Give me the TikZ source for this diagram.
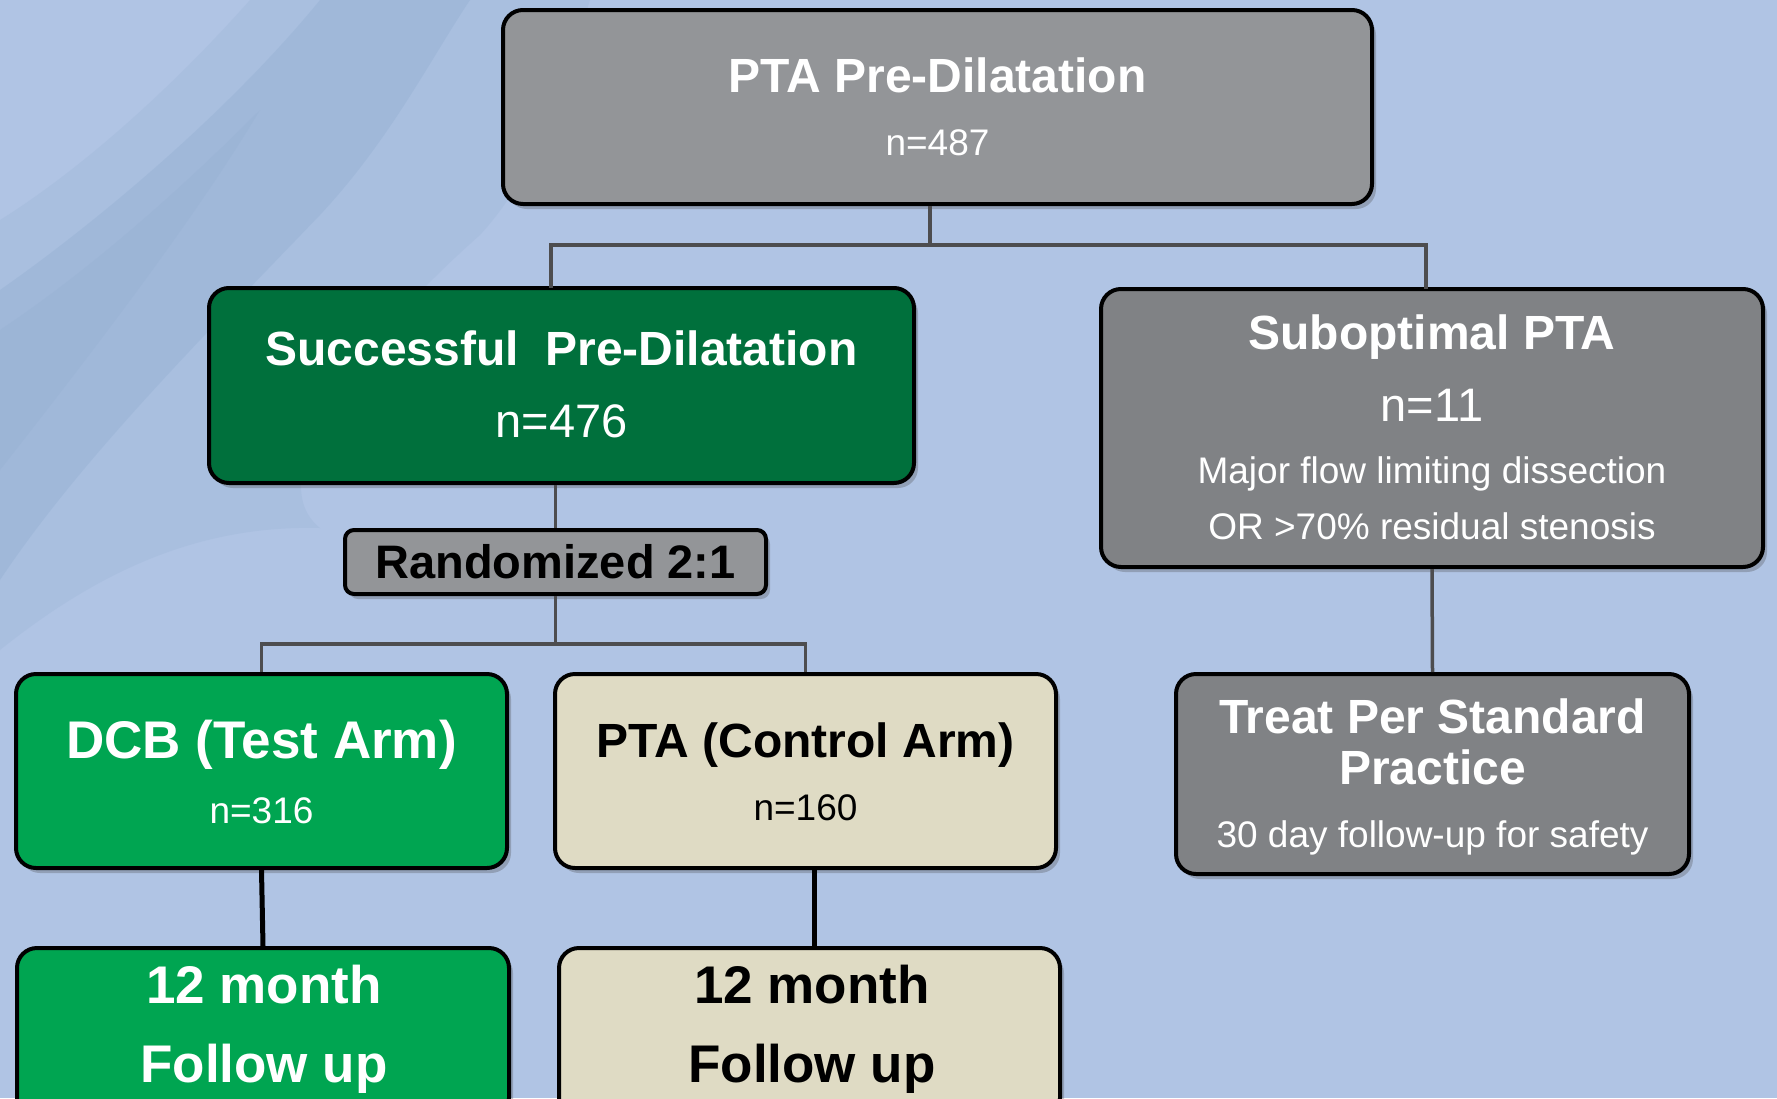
\documentclass[tikz,border=0pt]{standalone}
\usepackage{fontspec}
\setmainfont{Liberation Sans}
\usetikzlibrary{shadows}
\definecolor{bgblue}{RGB}{176,196,228}
\definecolor{swoosh}{RGB}{140,170,205}
\definecolor{topgray}{RGB}{147,149,152}
\definecolor{subgray}{RGB}{128,130,133}
\definecolor{darkgreen}{RGB}{0,112,60}
\definecolor{armgreen}{RGB}{0,165,81}
\definecolor{beige}{RGB}{223,219,196}
\definecolor{linegray}{RGB}{77,77,79}
\tikzset{
  box/.style={draw=black, line width=4pt, rounded corners=20pt, inner sep=0pt,
    drop shadow={shadow xshift=4pt, shadow yshift=-5pt, opacity=0.3, fill=black!70}},
  txt/.style={anchor=base, inner sep=0pt, outer sep=0pt},
  bigb/.style={txt, font=\fontsize{48}{58}\selectfont\bfseries},
  hugeb/.style={txt, font=\fontsize{53}{63}\selectfont\bfseries},
  med/.style={txt, font=\fontsize{47}{56}\selectfont},
  small/.style={txt, font=\fontsize{37}{44}\selectfont},
  conn/.style={draw=linegray, line width=3.5pt},
  thickconn/.style={draw=black, line width=5pt},
}
\begin{document}
\begin{tikzpicture}[x=1pt, y=-1pt]
\useasboundingbox (0,0) rectangle (1777,1098);
\begin{scope}
\clip (0,0) rectangle (1777,1098);
\fill[bgblue] (0,0) rectangle (1777,1098);
% background brush stroke (soft, layered)
\fill[swoosh, opacity=0.18] (250,0) .. controls (170,90) and (80,170) .. (0,220)
  -- (0,650) .. controls (100,570) and (200,525) .. (320,528)
  .. controls (260,480) and (350,350) .. (480,235)
  .. controls (540,170) and (565,80) .. (590,0) -- cycle;
\fill[swoosh, opacity=0.3] (320,0) .. controls (230,110) and (100,220) .. (0,290)
  -- (0,580) .. controls (80,460) and (200,340) .. (320,215)
  .. controls (390,140) and (430,60) .. (470,0) -- cycle;
\fill[swoosh, opacity=0.2] (0,330) .. controls (90,270) and (180,190) .. (260,110)
  .. controls (200,210) and (110,330) .. (0,470) -- cycle;

% boxes
\node[box, fill=topgray, minimum width=869pt, minimum height=194pt] (top) at (937.5,107) {};
\node[box, fill=darkgreen, minimum width=705pt, minimum height=195pt] (succ) at (561.5,385.5) {};
\node[box, fill=subgray, minimum width=662pt, minimum height=278pt] (sub) at (1432,428) {};
\node[box, fill=topgray, rounded corners=9pt, minimum width=421pt, minimum height=64pt] (rand) at (555.5,562) {};
\node[box, fill=armgreen, minimum width=491pt, minimum height=194pt] (dcb) at (261.5,771) {};
\node[box, fill=beige, minimum width=501pt, minimum height=194pt] (pta) at (805.5,771) {};
\node[box, fill=subgray, minimum width=513pt, minimum height=200pt] (treat) at (1432.5,774) {};
\node[box, fill=armgreen, minimum width=492pt, minimum height=170pt] (dcbf) at (263,1033) {};
\node[box, fill=beige, minimum width=501pt, minimum height=170pt] (ptaf) at (809.5,1033) {};

% texts
\node[bigb, white] (topA) at (937.5,92) {PTA Pre-Dilatation};
\node[small, white] (topB) at (937.5,155) {n=487};
\node[bigb, white] (succA) at (561.5,365) {Successful\ \ Pre-Dilatation};
\node[med, white] (succB) at (561.5,437) {n=476};
\node[bigb, white] (subA) at (1432,349) {Suboptimal PTA};
\node[med, white] (subB) at (1432,421) {n=11};
\node[small, white] (subC) at (1432,483) {Major flow limiting dissection};
\node[small, white] (subD) at (1432,539) {OR >70\% residual stenosis};
\node[bigb, black, font=\fontsize{47}{56}\selectfont\bfseries] (randA) at (555.5,578) {Randomized 2:1};
\node[hugeb, white] (dcbA) at (261.5,758) {DCB (Test Arm)};
\node[small, white] (dcbB) at (261.5,823) {n=316};
\node[bigb, black] (ptaA) at (805.5,757) {PTA (Control Arm)};
\node[small, black] (ptaB) at (805.5,820) {n=160};
\node[bigb, white] (treatA) at (1432.5,733) {Treat Per Standard};
\node[bigb, white] (treatB) at (1432.5,784) {Practice};
\node[small, white] (treatC) at (1432.5,847) {30 day follow-up for safety};
\node[hugeb, white] (dcbfA) at (264,1003) {12 month};
\node[hugeb, white] (dcbfB) at (264,1082) {Follow up};
\node[hugeb, black] (ptafA) at (812,1003) {12 month};
\node[hugeb, black] (ptafB) at (812,1082) {Follow up};

% connectors
\coordinate (j1) at (930,245);
\coordinate (j1l) at (551,245);
\coordinate (j1r) at (1426,245);
\coordinate (j2) at (558,644);
\coordinate (k) at (814,0);
\draw[conn] (j1 |- top.south) -- (j1);
\draw[conn, line cap=rect] (j1l |- succ.north) -- (j1l) -- (j1r) -- (j1r |- sub.north);
\draw[conn] (succ.south -| rand.north) -- (rand.north);
\draw[conn] (rand.south) -- (rand.south |- j2);
\draw[conn] (dcb.north) -- (dcb.north |- j2) -- (pta.north |- j2) -- (pta.north);
\draw[conn] (sub.south) -- (treat.north);
\draw[thickconn] (dcb.south) -- (dcbf.north);
\draw[thickconn] ([yshift=4pt]pta.south -| k) -- (ptaf.north -| k);
\end{scope}
\end{tikzpicture}
\end{document}
